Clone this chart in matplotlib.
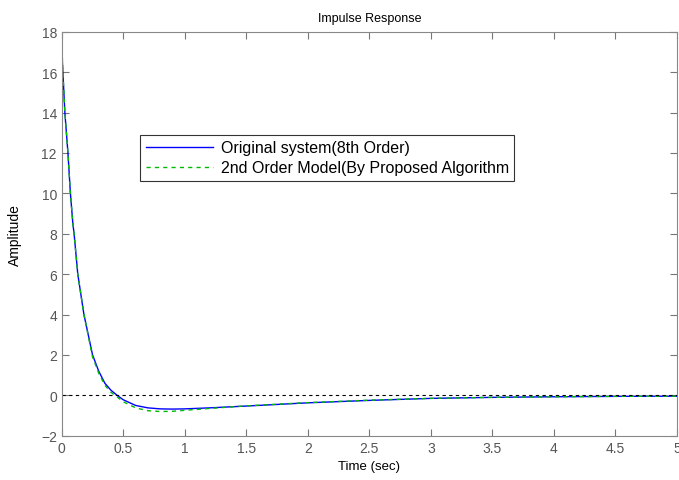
import numpy as np
import matplotlib
matplotlib.use('Agg')
import matplotlib.pyplot as plt

plt.rcParams['font.family'] = ['Liberation Sans', 'DejaVu Sans']

# values
t = [0, 0.005, 0.025, 0.05, 0.07, 0.09, 0.1, 0.13, 0.18, 0.25, 0.3, 0.35, 0.4,
     0.45, 0.5, 0.6, 0.7, 0.8, 0.9, 1.0, 1.2, 1.5, 2.0, 2.5, 3.0, 3.5, 4.0, 4.5, 5.0]
y_orig = [18, 16.5, 14, 12, 10, 8.5, 8, 6, 4, 2, 1.2, 0.6, 0.25,
          0, -0.22, -0.5, -0.62, -0.67, -0.68, -0.67, -0.62, -0.53, -0.37,
          -0.25, -0.15, -0.1, -0.07, -0.05, -0.04]
y_model = [18, 16.5, 14, 12, 10, 8.5, 8, 6, 4, 1.9, 1.1, 0.5, 0.15,
           -0.08, -0.32, -0.62, -0.76, -0.8, -0.79, -0.74, -0.65, -0.52, -0.36,
           -0.24, -0.15, -0.1, -0.07, -0.05, -0.04]

xticks = [0, 0.5, 1, 1.5, 2, 2.5, 3, 3.5, 4, 4.5, 5]
xticklabels = ['0', '0.5', '1', '1.5', '2', '2.5', '3', '3.5', '4', '4.5', '5']
yticks = list(range(-2, 19, 2))

fig = plt.figure(figsize=(6.79, 4.81), dpi=100)
ax = fig.add_axes([0.091, 0.092, 0.906, 0.84])

ax.plot(t, y_orig, color='#0000ff', lw=1.0, label='Original system(8th Order)')
ax.plot(t, y_model, color='#00bb00', lw=1.0, ls=(0, (3, 3)),
        label='2nd Order Model(By Proposed Algorithm')
ax.axhline(0, color='black', lw=0.8, ls=(0, (3, 3)))

ax.set_xlim(0, 5)
ax.set_ylim(-2, 18)
ax.set_xticks(xticks)
ax.set_xticklabels(xticklabels)
ax.set_yticks(yticks)
ax.tick_params(direction='in', top=True, right=True, labelsize=10,
               colors='#777777', labelcolor='#555555', length=5)
for s in ax.spines.values():
    s.set_color('#888888')

ax.set_title('Impulse Response', fontsize=9, pad=7.5)
ax.set_xlabel('Time (sec)', fontsize=9.5)
ax.set_ylabel('Amplitude', fontsize=10,
              family=['Liberation Sans Narrow', 'Liberation Sans'])
ax.yaxis.set_label_coords(-0.064, 0.5)

leg = ax.legend(loc='upper left', bbox_to_anchor=(0.127, 0.745), fontsize=11.5,
                frameon=True, fancybox=False, edgecolor='black',
                handlelength=4.2, handletextpad=0.5, borderpad=0.35,
                labelspacing=0.3, borderaxespad=0)
leg.get_frame().set_linewidth(0.8)

fig.savefig('out.png', dpi=100)
